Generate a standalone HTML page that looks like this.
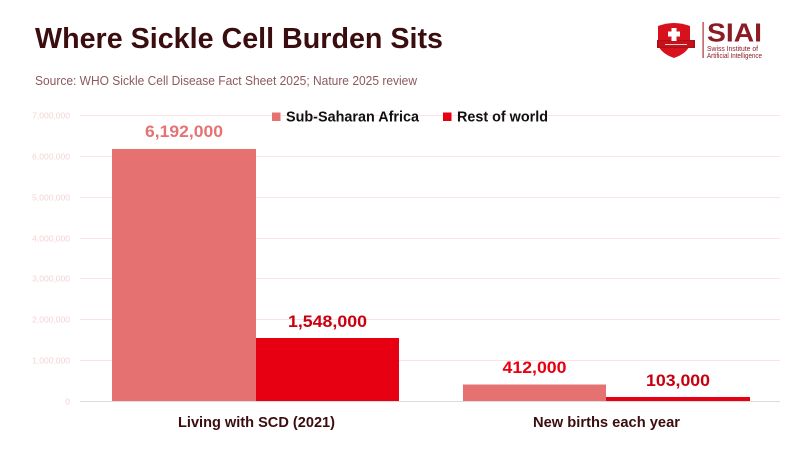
<!DOCTYPE html>
<html>
<head>
<meta charset="utf-8">
<style>
  html, body { margin:0; padding:0; background:#ffffff; }
  body { width:800px; height:450px; overflow:hidden; }
  svg { display:block; font-family:"Liberation Sans", sans-serif; }
</style>
</head>
<body>
<svg width="800" height="450" viewBox="0 0 800 450" xmlns="http://www.w3.org/2000/svg">
  <rect x="0" y="0" width="800" height="450" fill="#ffffff"/>

  <!-- Title -->
  <text x="35" y="48" font-size="29" font-weight="bold" fill="#3b0d0f" textLength="408" lengthAdjust="spacingAndGlyphs">Where Sickle Cell Burden Sits</text>
  <text x="35" y="85" font-size="12.5" fill="#8c5a5e" textLength="382" lengthAdjust="spacingAndGlyphs">Source: WHO Sickle Cell Disease Fact Sheet 2025; Nature 2025 review</text>

  <!-- Logo -->
  <g>
    <path d="M658,26 Q674,20 690,26 L690,44 Q688,53 674,58 Q660,53 658,44 Z" fill="#d7121c"/>
    <rect x="657" y="40" width="38" height="8" fill="#b00f18"/>
    <rect x="659" y="41" width="34" height="6" fill="#c4121b"/>
    <rect x="665" y="44" width="22" height="1" fill="#f3c9c9"/>
    <rect x="671.5" y="28" width="5" height="13" fill="#ffffff"/>
    <rect x="668" y="31.5" width="12" height="5" fill="#ffffff"/>
    <rect x="702.5" y="22" width="1.2" height="36" fill="#a8323a"/>
    <text x="707" y="41.7" font-size="26" font-weight="bold" fill="#8b1c24" textLength="55" lengthAdjust="spacingAndGlyphs">SIAI</text>
    <text x="707" y="51" font-size="7" fill="#8b1c24" textLength="51" lengthAdjust="spacingAndGlyphs">Swiss Institute of</text>
    <text x="707" y="58" font-size="7" fill="#8b1c24" textLength="55" lengthAdjust="spacingAndGlyphs">Artificial Intelligence</text>
  </g>

  <!-- Gridlines -->
  <g stroke="#fae3e4" stroke-width="1">
    <line x1="80" y1="115.5" x2="780" y2="115.5"/>
    <line x1="80" y1="156.5" x2="780" y2="156.5"/>
    <line x1="80" y1="197.5" x2="780" y2="197.5"/>
    <line x1="80" y1="238.5" x2="780" y2="238.5"/>
    <line x1="80" y1="278.5" x2="780" y2="278.5"/>
    <line x1="80" y1="319.5" x2="780" y2="319.5"/>
    <line x1="80" y1="360.5" x2="780" y2="360.5"/>
  </g>

  <!-- Y tick labels -->
  <g font-size="8.5" fill="#f5d3d4" text-anchor="end">
    <text x="70" y="118.5">7,000,000</text>
    <text x="70" y="159.5">6,000,000</text>
    <text x="70" y="200.5">5,000,000</text>
    <text x="70" y="241.5">4,000,000</text>
    <text x="70" y="281.5">3,000,000</text>
    <text x="70" y="322.5">2,000,000</text>
    <text x="70" y="363.5">1,000,000</text>
    <text x="70" y="404.5">0</text>
  </g>

  <!-- Bars -->
  <rect x="112" y="149" width="144" height="252" fill="#e57171"/>
  <rect x="256" y="338" width="143" height="63" fill="#e60012"/>
  <rect x="463" y="384.5" width="143" height="16.5" fill="#e57171"/>
  <rect x="606" y="397" width="144" height="4" fill="#e60012"/>

  <!-- Axis line -->
  <line x1="80" y1="401.5" x2="780" y2="401.5" stroke="#dcdcdc" stroke-width="1"/>

  <!-- Value labels -->
  <g font-size="17" font-weight="bold" text-anchor="middle">
    <text x="184" y="137" fill="#e57373" textLength="78" lengthAdjust="spacingAndGlyphs">6,192,000</text>
    <text x="327.5" y="327" fill="#c8000f" textLength="79" lengthAdjust="spacingAndGlyphs">1,548,000</text>
    <text x="534.5" y="373" fill="#e60012" textLength="64" lengthAdjust="spacingAndGlyphs">412,000</text>
    <text x="678" y="386" fill="#c8000f" textLength="64" lengthAdjust="spacingAndGlyphs">103,000</text>
  </g>

  <!-- Legend -->
  <rect x="272" y="112.5" width="8.5" height="8.5" fill="#e57171"/>
  <text x="286" y="121.7" font-size="14.5" font-weight="bold" fill="#111111" textLength="133" lengthAdjust="spacingAndGlyphs">Sub-Saharan Africa</text>
  <rect x="443" y="112.5" width="8.5" height="8.5" fill="#e60012"/>
  <text x="457" y="121.7" font-size="14.5" font-weight="bold" fill="#111111" textLength="91" lengthAdjust="spacingAndGlyphs">Rest of world</text>

  <!-- Category labels -->
  <text x="178" y="427" font-size="15" font-weight="bold" fill="#3b0d0f" textLength="157" lengthAdjust="spacingAndGlyphs">Living with SCD (2021)</text>
  <text x="533" y="427" font-size="15" font-weight="bold" fill="#3b0d0f" textLength="147" lengthAdjust="spacingAndGlyphs">New births each year</text>
</svg>
</body>
</html>
